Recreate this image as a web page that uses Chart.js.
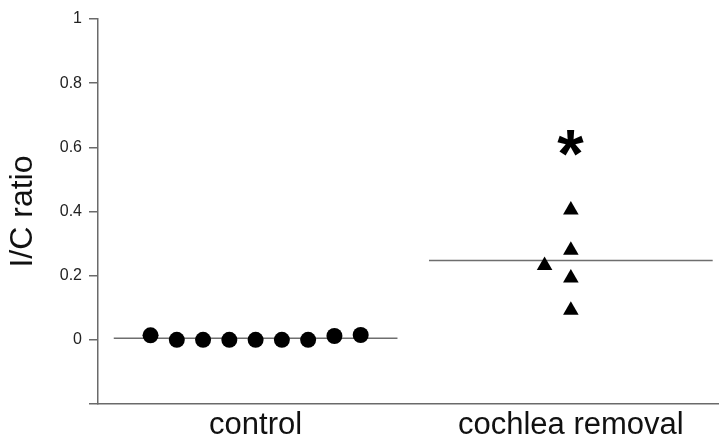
<!DOCTYPE html>
<html>
<head>
<meta charset="utf-8">
<script src="https://cdn.jsdelivr.net/npm/chart.js@4/dist/chart.umd.min.js"></script>
<style>
  html, body { margin: 0; padding: 0; background: #ffffff; overflow: hidden; }
  #wrap { width: 719px; height: 442px; position: relative; }
  canvas { display: block; }
</style>
</head>
<body>
<div id="wrap"><canvas id="c" width="719" height="442"></canvas></div>
<script>
// ---- data ----
const categories = ["control", "cochlea removal"];
const categoryX = [1, 2];
const controlOffsets = [-4, -3, -2, -1, 0, 1, 2, 3, 4];          // jitter slots (x 1/12)
const controlValues  = [0.014, 0, 0, 0, 0, 0, 0, 0.012, 0.015];
const cochleaOffsets = [0, 0, -1, 0, 0];
const cochleaValues  = [0.405, 0.279, 0.232, 0.193, 0.092];
const groupMeans = [0.005, 0.247];
const significance = ["", "*"];
const significanceY = [null, 0.615];
const yTicks = [-0.2, 0, 0.2, 0.4, 0.6, 0.8, 1];

// ---- build datasets ----
const slot = 1 / 12;
const meanHalf = 0.45;
const controlPts = controlValues.map((v, i) => ({ x: categoryX[0] + controlOffsets[i] * slot, y: v }));
const cochleaPts = cochleaValues.map((v, i) => ({ x: categoryX[1] + cochleaOffsets[i] * slot, y: v }));
const meanSets = groupMeans.map((m, i) => ({
  type: 'line',
  data: [{ x: categoryX[i] - meanHalf, y: m }, { x: categoryX[i] + meanHalf, y: m }],
  borderColor: '#6e6e6e',
  borderWidth: 1.5,
  pointRadius: 0,
  fill: false,
  order: 2
}));

const starPlugin = {
  id: 'starPlugin',
  afterDatasetsDraw(chart) {
    const ctx = chart.ctx;
    const xs = chart.scales.x, ys = chart.scales.y;
    ctx.save();
    ctx.fillStyle = '#000';
    ctx.font = 'bold 68px "Liberation Sans", Arial, sans-serif';
    ctx.textAlign = 'left';
    ctx.textBaseline = 'alphabetic';
    significance.forEach((s, i) => {
      if (!s) return;
      const px = xs.getPixelForValue(categoryX[i]);
      const py = ys.getPixelForValue(significanceY[i]);
      const m = ctx.measureText(s);
      const w = m.actualBoundingBoxLeft + m.actualBoundingBoxRight;
      const h = m.actualBoundingBoxAscent + m.actualBoundingBoxDescent;
      const bx = px - w / 2 + m.actualBoundingBoxLeft;
      const by = py - h / 2 + m.actualBoundingBoxAscent;
      ctx.fillText(s, bx, by);
    });
    ctx.restore();
  }
};

new Chart(document.getElementById('c'), {
  type: 'scatter',
  data: {
    datasets: [
      {
        data: controlPts,
        pointStyle: 'circle',
        pointRadius: 8,
        pointHoverRadius: 8,
        backgroundColor: '#000',
        borderColor: '#000',
        borderWidth: 0,
        order: 1
      },
      {
        data: cochleaPts,
        pointStyle: 'triangle',
        pointRadius: 9,
        pointHoverRadius: 9,
        backgroundColor: '#000',
        borderColor: '#000',
        borderWidth: 0,
        order: 1
      },
      ...meanSets
    ]
  },
  options: {
    responsive: false,
    animation: false,
    events: [],
    layout: { autoPadding: false, padding: { top: 19, right: 0, bottom: 0, left: 0 } },
    plugins: { legend: { display: false }, tooltip: { enabled: false } },
    scales: {
      x: {
        type: 'linear',
        min: 0.5,
        max: 2.47,
        grid: { display: false },
        border: { display: true, color: '#6a6a6a', width: 1.5 },
        afterBuildTicks(scale) { scale.ticks = categoryX.map(v => ({ value: v })); },
        afterFit(scale) { scale.height = 38; scale.paddingLeft = 0; scale.paddingRight = 0; },
        ticks: {
          padding: -5,
          color: '#111',
          font: { family: '"Liberation Sans", Arial, sans-serif', size: 31 },
          maxRotation: 0,
          autoSkip: false,
          callback(v) { const i = categoryX.indexOf(v); return i >= 0 ? categories[i] : ''; }
        }
      },
      y: {
        min: -0.2,
        max: 1,
        afterBuildTicks(scale) { scale.ticks = yTicks.map(v => ({ value: v })); },
        afterFit(scale) { scale.width = 98; scale.paddingTop = 0; scale.paddingBottom = 0; },
        grid: { drawOnChartArea: false, drawTicks: true, tickLength: 9, color: '#6a6a6a', lineWidth: 1.5 },
        border: { display: true, color: '#6a6a6a', width: 1.5 },
        ticks: {
          padding: 7,
          color: '#222',
          font: { family: '"Liberation Sans", Arial, sans-serif', size: 16 },
          callback(v) { return v < -0.1 ? '' : String(Math.round(v * 10) / 10); }
        },
        title: {
          display: true,
          text: 'I/C ratio',
          color: '#111',
          padding: { top: 4, bottom: 0 },
          font: { family: '"Liberation Sans", Arial, sans-serif', size: 32 }
        }
      }
    }
  },
  plugins: [starPlugin]
});
</script>
</body>
</html>
